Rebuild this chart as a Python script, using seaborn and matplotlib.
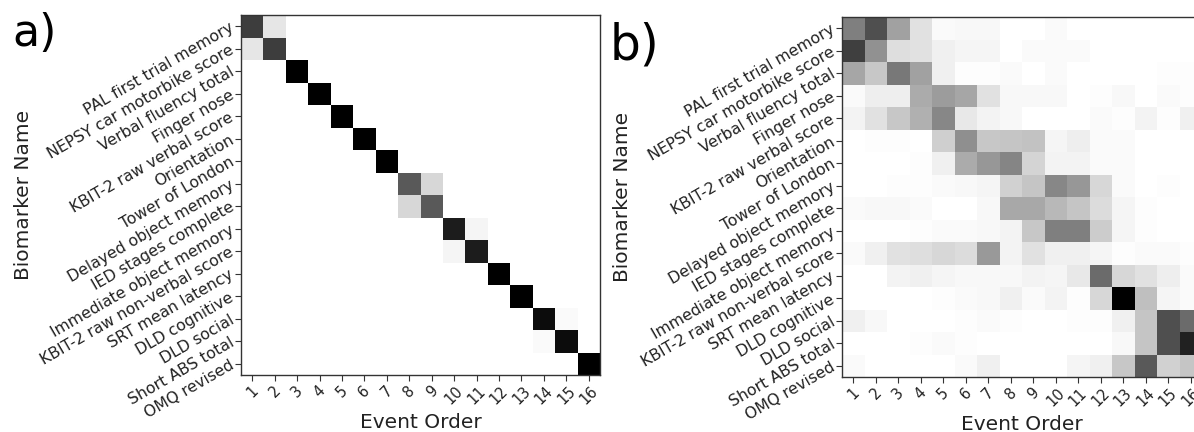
import numpy as np
import pandas as pd
import matplotlib
matplotlib.use("Agg")
import matplotlib.pyplot as plt
import seaborn as sns

biomarkers = ["PAL first trial memory", "NEPSY car motorbike score", "Verbal fluency total",
              "Finger nose", "KBIT-2 raw verbal score", "Orientation", "Tower of London",
              "Delayed object memory", "IED stages complete", "Immediate object memory",
              "KBIT-2 raw non-verbal score", "SRT mean latency", "DLD cognitive", "DLD social",
              "Short ABS total", "OMQ revised"]
event_order = list(range(1, 17))

# panel a: positional variance (a)
prob_a = [
    [0.76, 0.10, 0, 0, 0, 0, 0, 0, 0, 0, 0, 0, 0, 0, 0, 0],
    [0.10, 0.76, 0, 0, 0, 0, 0, 0, 0, 0, 0, 0, 0, 0, 0, 0],
    [0, 0, 1.00, 0, 0, 0, 0, 0, 0, 0, 0, 0, 0, 0, 0, 0],
    [0, 0, 0, 1.00, 0, 0, 0, 0, 0, 0, 0, 0, 0, 0, 0, 0],
    [0, 0, 0, 0, 1.00, 0, 0, 0, 0, 0, 0, 0, 0, 0, 0, 0],
    [0, 0, 0, 0, 0, 1.00, 0, 0, 0, 0, 0, 0, 0, 0, 0, 0],
    [0, 0, 0, 0, 0, 0, 1.00, 0, 0, 0, 0, 0, 0, 0, 0, 0],
    [0, 0, 0, 0, 0, 0, 0, 0.65, 0.16, 0, 0, 0, 0, 0, 0, 0],
    [0, 0, 0, 0, 0, 0, 0, 0.16, 0.65, 0, 0, 0, 0, 0, 0, 0],
    [0, 0, 0, 0, 0, 0, 0, 0, 0, 0.89, 0.04, 0, 0, 0, 0, 0],
    [0, 0, 0, 0, 0, 0, 0, 0, 0, 0.04, 0.89, 0, 0, 0, 0, 0],
    [0, 0, 0, 0, 0, 0, 0, 0, 0, 0, 0, 1.00, 0, 0, 0, 0],
    [0, 0, 0, 0, 0, 0, 0, 0, 0, 0, 0, 0, 1.00, 0, 0, 0],
    [0, 0, 0, 0, 0, 0, 0, 0, 0, 0, 0, 0, 0, 0.95, 0.02, 0],
    [0, 0, 0, 0, 0, 0, 0, 0, 0, 0, 0, 0, 0, 0.02, 0.95, 0],
    [0, 0, 0, 0, 0, 0, 0, 0, 0, 0, 0, 0, 0, 0, 0, 1.00],
]

# panel b: positional variance (b)
prob_b = [
    [0.50, 0.69, 0.37, 0.12, 0.02, 0.03, 0.03, 0.00, 0.00, 0.02, 0, 0, 0, 0, 0, 0],
    [0.75, 0.43, 0.13, 0.12, 0.06, 0.04, 0.04, 0.00, 0.02, 0.02, 0.02, 0, 0, 0, 0, 0],
    [0.35, 0.22, 0.53, 0.37, 0.06, 0.01, 0.01, 0.02, 0.00, 0.02, 0, 0, 0, 0, 0.01, 0.01],
    [0.02, 0.07, 0.07, 0.33, 0.39, 0.35, 0.12, 0.03, 0.03, 0.03, 0, 0.01, 0.03, 0, 0.02, 0.01],
    [0.05, 0.12, 0.22, 0.31, 0.47, 0.09, 0.05, 0.03, 0, 0, 0, 0.02, 0.01, 0.05, 0.01, 0.06],
    [0, 0.01, 0.01, 0, 0.19, 0.44, 0.22, 0.23, 0.24, 0.04, 0.07, 0.02, 0.02, 0, 0, 0],
    [0, 0, 0, 0.01, 0.06, 0.33, 0.41, 0.48, 0.17, 0.05, 0.05, 0.02, 0.02, 0, 0, 0],
    [0, 0, 0.01, 0.01, 0.02, 0.03, 0.04, 0.18, 0.23, 0.47, 0.41, 0.16, 0.02, 0, 0.01, 0],
    [0.02, 0.03, 0.03, 0.02, 0, 0, 0.03, 0.34, 0.34, 0.28, 0.23, 0.14, 0.04, 0.01, 0, 0],
    [0, 0, 0, 0.01, 0.02, 0.02, 0.03, 0.05, 0.22, 0.50, 0.50, 0.20, 0.04, 0.01, 0, 0],
    [0.02, 0.06, 0.12, 0.13, 0.16, 0.14, 0.40, 0.05, 0.12, 0.06, 0.06, 0.04, 0.01, 0.02, 0.02, 0.01],
    [0, 0, 0.05, 0.06, 0.04, 0.03, 0.03, 0.03, 0.05, 0.04, 0.09, 0.58, 0.16, 0.12, 0.07, 0.02],
    [0, 0, 0, 0, 0.01, 0.02, 0.03, 0.06, 0.02, 0.05, 0.01, 0.16, 1.00, 0.25, 0.04, 0.02],
    [0.06, 0.03, 0, 0, 0, 0.01, 0.02, 0.01, 0, 0, 0.01, 0.01, 0.06, 0.23, 0.69, 0.58],
    [0, 0, 0, 0.01, 0.02, 0.01, 0, 0, 0, 0, 0, 0, 0.03, 0.23, 0.69, 0.87],
    [0.02, 0, 0, 0, 0, 0.02, 0.06, 0, 0, 0, 0.04, 0.06, 0.22, 0.65, 0.18, 0.23],
]

panel_labels = ["a)", "b)"]

W, H = 1194, 432
fig = plt.figure(figsize=(W / 100, H / 100), dpi=100)

axes_px = [(241, 15, 359, 360), (842, 17, 360, 360)]
label_px = [(12, 12, 32), (610, 22, 35)]
ylabel_x = [-0.58, -0.583]
text_color = "#222222"

for mat, (x0, y0, w, h), lab, (lx, ly, lsz), ylx in zip(
        [prob_a, prob_b], axes_px, panel_labels, label_px, ylabel_x):
    ax = fig.add_axes([x0 / W, 1 - (y0 + h) / H, w / W, h / H])
    df = pd.DataFrame(np.array(mat), index=biomarkers, columns=event_order)
    sns.heatmap(df, ax=ax, cmap="gray_r", vmin=0, vmax=1, cbar=False,
                xticklabels=event_order, yticklabels=biomarkers, linewidths=0)
    for sp in ax.spines.values():
        sp.set_visible(True)
        sp.set_color("#333333")
        sp.set_linewidth(1.0)
    ax.tick_params(axis="both", length=4, width=0.8, color="#333333",
                   labelcolor=text_color, pad=2)
    plt.setp(ax.get_yticklabels(), rotation=30, ha="right", va="center",
             rotation_mode="anchor", fontsize=11.3)
    plt.setp(ax.get_xticklabels(), rotation=45, ha="center", fontsize=10.5)
    ax.set_xlabel("Event Order", fontsize=14.5, color=text_color)
    ax.set_ylabel("Biomarker Name", fontsize=14.5, color=text_color)
    ax.yaxis.set_label_coords(ylx, 0.5)
    fig.text(lx / W, 1 - ly / H, lab, fontsize=lsz, ha="left", va="top", color="black")

fig.savefig("out.png", dpi=100)
